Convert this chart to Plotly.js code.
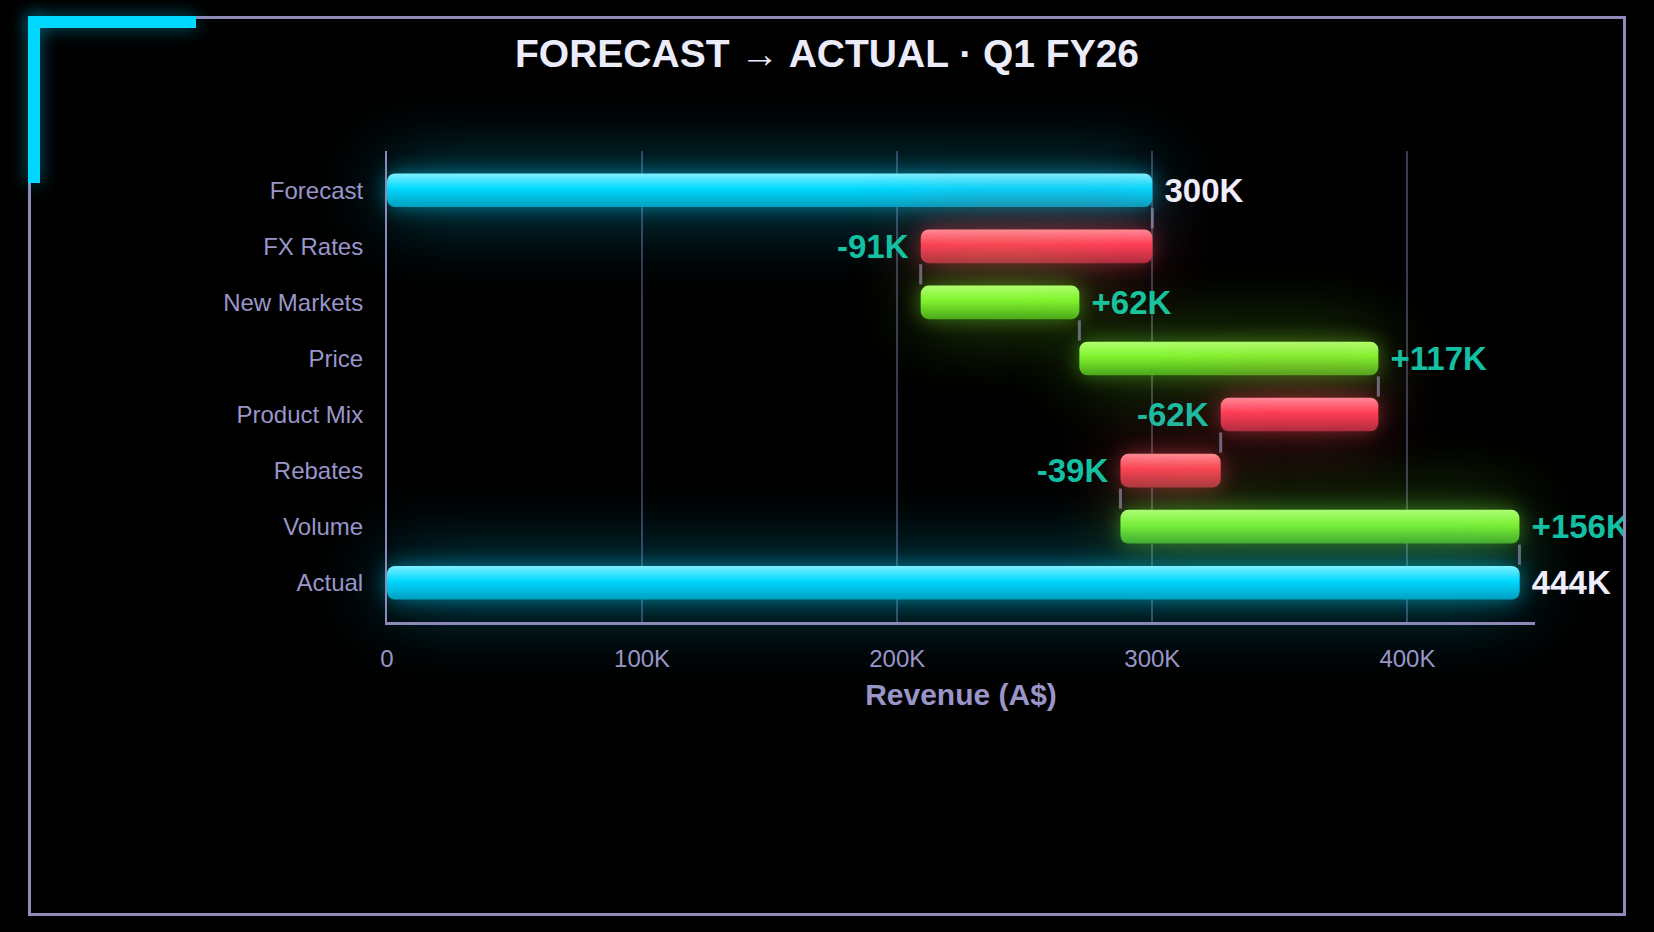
<!DOCTYPE html>
<html>
<head>
<meta charset="utf-8">
<script src="https://cdn.plot.ly/plotly-3.0.1.min.js"></script>
<style>
  html, body { margin: 0; padding: 0; background: #000; }
  #clip { position: absolute; left: 0; top: 0; width: 1623px; height: 932px; overflow: hidden; }
  #chart { width: 1654px; height: 932px; }
  #frame {
    position: absolute; left: 28px; top: 16px; width: 1592px; height: 894px;
    border: 3px solid #8f8bb8; pointer-events: none;
  }
  .corner { position: absolute; background: #00d8ff; box-shadow: 0 0 18px rgba(0, 216, 255, 0.45); pointer-events: none; }
</style>
</head>
<body>
<div id="clip"><div id="chart"></div></div>
<div id="frame"></div>
<div class="corner" style="left:28px; top:16px; width:168px; height:12px;"></div>
<div class="corner" style="left:28px; top:16px; width:12px; height:167px;"></div>
<script>
const categories = ['Forecast', 'FX Rates', 'New Markets', 'Price', 'Product Mix', 'Rebates', 'Volume', 'Actual'];
const forecast = 300000;
const deltas = [-90800, 62200, 117200, -61800, -39300, 156400];
const actual = 444000;
const tickVals = [0, 100000, 200000, 300000, 400000];
const tickText = ['0', '100K', '200K', '300K', '400K'];

const CYAN = '#00d4ff', RED = '#ff3d55', GREEN = '#7cf52a';
const TEAL = '#14c0a4', WHITE = '#f0eefc', LAV = '#9a95c8';
const FONT = 'Liberation Sans, Arial, sans-serif';

// build the bar spans: base + signed length
const bases = [0];
const lengths = [forecast];
const kinds = ['total'];
let running = forecast;
const runningAfter = [forecast];
deltas.forEach(d => {
    bases.push(running);
    lengths.push(d);
    kinds.push(d >= 0 ? 'up' : 'down');
    running += d;
    runningAfter.push(running);
});
bases.push(0);
lengths.push(actual);
kinds.push('total');
runningAfter.push(actual);

const fmtK = v => Math.round(Math.abs(v) / 1000) + 'K';
const labels = lengths.map((v, i) => {
    if (kinds[i] === 'total') return ' ' + fmtK(v);
    if (v >= 0) return ' +' + fmtK(v);
    return '-' + fmtK(v) + ' ';
});
const barColors = kinds.map(k => k === 'total' ? CYAN : (k === 'up' ? GREEN : RED));
const textColors = kinds.map(k => k === 'total' ? WHITE : TEAL);

const trace = {
    type: 'bar',
    orientation: 'h',
    y: categories,
    x: lengths,
    base: bases,
    width: 0.6,
    marker: { color: barColors, cornerradius: 8, line: { width: 0 } },
    text: labels,
    textposition: 'outside',
    constraintext: 'none',
    cliponaxis: false,
    textfont: { family: FONT, size: 33, color: textColors, weight: 'bold' },
    hoverinfo: 'skip',
    showlegend: false
};

// connectors between consecutive bars
const connectors = [];
for (let i = 0; i < categories.length - 1; i++) {
    connectors.push({
        type: 'line', xref: 'x', yref: 'y',
        x0: runningAfter[i], x1: runningAfter[i],
        y0: i + 0.32, y1: i + 0.68,
        line: { color: 'rgba(150,146,180,0.65)', width: 3 }
    });
}

const layout = {
    width: 1654,
    height: 932,
    paper_bgcolor: 'rgba(0,0,0,0)',
    plot_bgcolor: 'rgba(0,0,0,0)',
    margin: { l: 387, r: 119, t: 151, b: 310 },
    title: {
        text: '<b>FORECAST → ACTUAL · Q1 FY26</b>',
        font: { family: FONT, size: 39, color: '#ecebfa' },
        x: 0.5, xref: 'container', xanchor: 'center',
        y: 1 - 53 / 932, yref: 'container', yanchor: 'middle'
    },
    xaxis: {
        range: [0, 450000],
        tickvals: tickVals,
        ticktext: tickText,
        ticks: '',
        ticklabelstandoff: 13,
        tickfont: { family: FONT, size: 24, color: LAV },
        showgrid: true,
        gridcolor: '#363a4e',
        gridwidth: 2,
        zeroline: false,
        showline: true,
        linecolor: '#8c88b8',
        linewidth: 3,
        title: {
            text: '<b>Revenue (A$)</b>',
            font: { family: FONT, size: 30, color: LAV },
            standoff: 14
        }
    },
    yaxis: {
        type: 'category',
        range: [7.7, -0.7],
        ticks: '',
        ticklabelstandoff: 17,
        tickfont: { family: FONT, size: 24, color: LAV },
        showgrid: false,
        zeroline: false,
        showline: true,
        linecolor: '#8c88b8',
        linewidth: 2
    },
    shapes: connectors,
    showlegend: false
};

Plotly.newPlot('chart', [trace], layout, { displayModeBar: false, staticPlot: true }).then(gd => {
    const svg = gd.querySelector('.main-svg');
    const ns = 'http://www.w3.org/2000/svg';
    let defs = svg.querySelector('defs');
    if (!defs) { defs = document.createElementNS(ns, 'defs'); svg.insertBefore(defs, svg.firstChild); }
    const grads = {
        total: ['#7ff0ff', '#00d8ff', '#009fc0'],
        up: ['#b0ff70', '#80f22c', '#4aa81a'],
        down: ['#ff8a96', '#ff3d55', '#b02c40']
    };
    Object.keys(grads).forEach(k => {
        const g = document.createElementNS(ns, 'linearGradient');
        g.setAttribute('id', 'grad-' + k);
        g.setAttribute('x1', '0'); g.setAttribute('y1', '0');
        g.setAttribute('x2', '0'); g.setAttribute('y2', '1');
        [[0, grads[k][0]], [0.45, grads[k][1]], [1, grads[k][2]]].forEach(([o, c]) => {
            const s = document.createElementNS(ns, 'stop');
            s.setAttribute('offset', o);
            s.setAttribute('stop-color', c);
            g.appendChild(s);
        });
        defs.appendChild(g);
    });
    // let the glow spill past the plot area
    gd.querySelectorAll('.cartesianlayer [clip-path], .cartesianlayer g').forEach(el => {
        el.removeAttribute('clip-path');
        el.style.clipPath = 'none';
    });
    const glow = { total: 'rgba(0,212,255,0.5)', up: 'rgba(124,245,42,0.42)', down: 'rgba(255,61,85,0.42)' };
    gd.querySelectorAll('.barlayer .point path').forEach((p, i) => {
        const k = kinds[i];
        p.style.fill = 'url(#grad-' + k + ')';
        p.style.filter = 'drop-shadow(0 0 10px ' + glow[k] + ') drop-shadow(0 0 36px ' + glow[k] + ')';
    });
});
</script>
</body>
</html>
